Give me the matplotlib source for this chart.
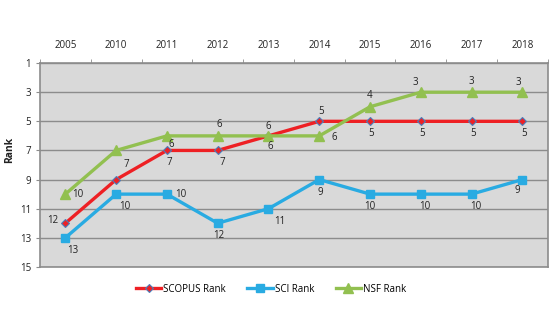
import matplotlib.pyplot as plt
import numpy as np

years = ["2005", "2010", "2011", "2012", "2013", "2014", "2015", "2016", "2017", "2018"]
scopus = [12, 9, 7, 7, 6, 5, 5, 5, 5, 5]
sci = [13, 10, 10, 12, 11, 9, 10, 10, 10, 9]
nsf = [10, 7, 6, 6, 6, 6, 4, 3, 3, 3]

# label offsets in points (None = no label)
scopus_off = [(-9, 2), None, (2, -9), (3, -9), (0, 7), (1, 7), (1, -9), (1, -9), (1, -9), (1, -9)]
sci_off = [(5, -9), (6, -9), (10, 0), (1, -9), (8, -9), (1, -9), (0, -9), (3, -9), (3, -9), (-4, -8)]
nsf_off = [(9, 0), (7, -10), (3, -6), (1, 8), (1, -8), (11, -1), (0, 8), (-4, 7), (0, 8), (-3, 7)]

plt.rcParams['font.family'] = ['Open Sans', 'DejaVu Sans']

fig = plt.figure(figsize=(5.55, 3.32), dpi=100)
ax = fig.add_axes([0.072, 0.196, 0.915, 0.614])
ax.set_facecolor('#d9d9d9')
x = np.arange(len(years))

ax.plot(x, scopus, color='#ee2024', lw=2.4, marker='D', ms=4.5, mfc='#ee2024',
        mec='#4a7ebb', mew=0.8, label='SCOPUS Rank', zorder=4)
ax.plot(x, sci, color='#29abe2', lw=2.4, marker='s', ms=6, mfc='#29abe2',
        mec='#29abe2', label='SCI Rank', zorder=3)
ax.plot(x, nsf, color='#92c050', lw=2.4, marker='^', ms=6.5, mfc='#92c050',
        mec='#92c050', label='NSF Rank', zorder=5)

for vals, offs in [(scopus, scopus_off), (sci, sci_off), (nsf, nsf_off)]:
    for xi, v, off in zip(x, vals, offs):
        if off is None:
            continue
        ax.annotate(str(v), (xi, v), xytext=off, textcoords='offset points',
                    ha='center', va='center', fontsize=7, color='#222222', zorder=6)

ax.set_xlim(-0.5, len(years) - 0.5)
ax.set_ylim(15, 1)
ax.set_yticks(range(1, 16, 2))
ax.yaxis.grid(True, color='#8c8c8c', lw=1)
ax.set_axisbelow(True)
ax.xaxis.tick_top()
ax.set_xticks(x)
ax.set_xticklabels(years)
ax.set_xticks(np.arange(-0.5, len(years) + 0.5, 1), minor=True)
ax.tick_params(axis='x', which='major', length=0, pad=9, labelsize=7, colors='#222222')
ax.tick_params(axis='x', which='minor', length=3, color='#8c8c8c', direction='out')
ax.tick_params(axis='y', length=3, color='#8c8c8c', labelsize=7, colors='#222222')
for s in ax.spines.values():
    s.set_color('#8c8c8c')
    s.set_linewidth(1.2)
fig.text(10 / 555, 0.55, 'Rank', rotation=90, fontsize=7.5, fontweight='bold',
         ha='center', va='center', color='#222222')

ax.legend(loc='upper center', bbox_to_anchor=(0.455, -0.04), ncol=3, frameon=False,
          fontsize=7, handlelength=2.6, columnspacing=2.2, handletextpad=0.2)

fig.savefig('out.png', dpi=100)
